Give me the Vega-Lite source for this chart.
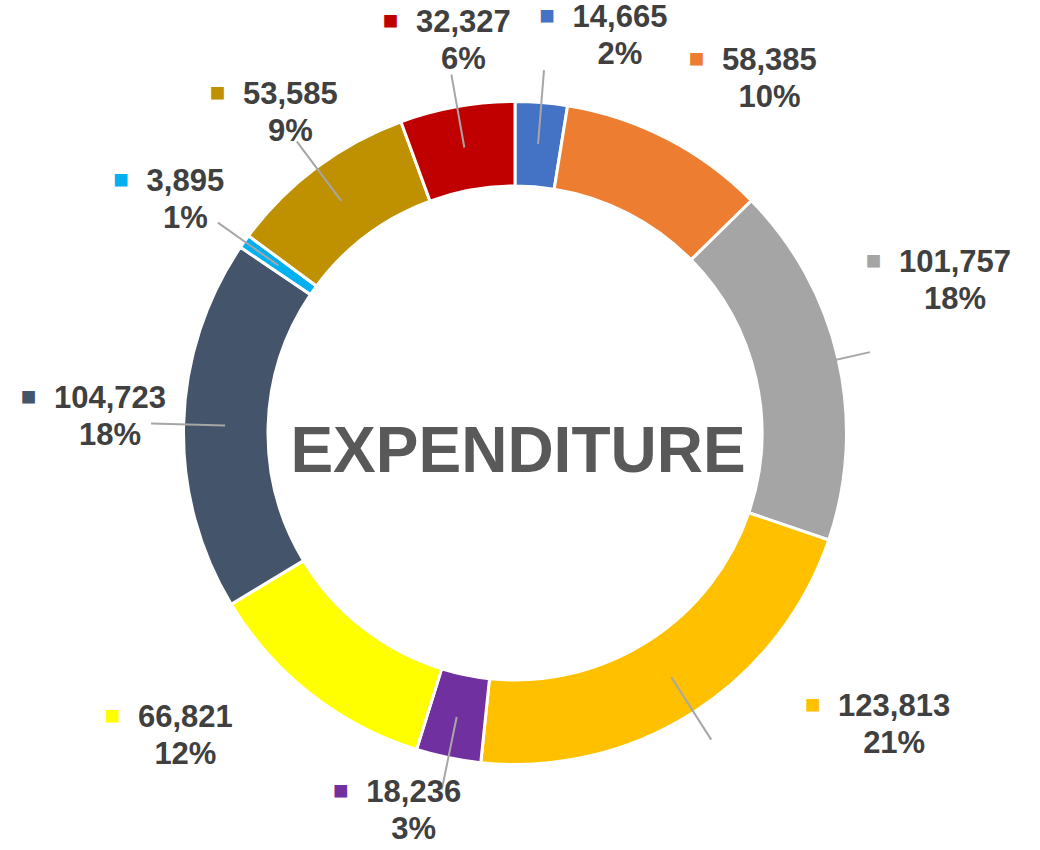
{
  "$schema": "https://vega.github.io/schema/vega-lite/v6.json",
  "width": 1040,
  "height": 850,
  "autosize": {"type": "fit", "contains": "padding"},
  "padding": {"left": 0, "top": 10, "right": 10, "bottom": 0},
  "background": "#ffffff",
  "view": {"stroke": null},
  "config": {"text": {"font": "Liberation Sans"}},
  "data": {"values": [
    {"slice": 1, "value": 14665, "pct": "2%"},
    {"slice": 2, "value": 58385, "pct": "10%"},
    {"slice": 3, "value": 101757, "pct": "18%"},
    {"slice": 4, "value": 123813, "pct": "21%"},
    {"slice": 5, "value": 18236, "pct": "3%"},
    {"slice": 6, "value": 66821, "pct": "12%"},
    {"slice": 7, "value": 104723, "pct": "18%"},
    {"slice": 8, "value": 3895, "pct": "1%"},
    {"slice": 9, "value": 53585, "pct": "9%"},
    {"slice": 10, "value": 32327, "pct": "6%"}
  ]},
  "transform": [{"joinaggregate": [{"op": "sum", "field": "value", "as": "total"}]}],
  "layer": [
    {
      "mark": {"type": "arc", "innerRadius": 247, "outerRadius": 331.5, "stroke": "#ffffff", "strokeWidth": 3},
      "encoding": {
        "theta": {"field": "value", "type": "quantitative", "stack": true},
        "order": {"field": "slice", "type": "quantitative"},
        "color": {"field": "slice", "type": "nominal", "legend": null,
          "scale": {"domain": [1,2,3,4,5,6,7,8,9,10], "range": ["#4472C4","#ED7D31","#A5A5A5","#FFC000","#7030A0","#FFFF00","#44546A","#00B0F0","#BF9000","#C00000"]}}
      }
    },
    {
      "mark": {"type": "arc", "innerRadius": 290, "outerRadius": 364, "padAngle": 1.1, "fill": null, "fillOpacity": 0, "stroke": "#A6A6A6", "strokeWidth": 2},
      "encoding": {
        "theta": {"field": "value", "type": "quantitative", "stack": true},
        "order": {"field": "slice", "type": "quantitative"},
        "strokeOpacity": {"condition": {"test": "datum.slice == 2 || datum.slice == 6", "value": 0}, "value": 1}
      }
    },
    {
      "mark": {"type": "text", "radius": 378, "fontSize": 31, "fontWeight": "bold", "color": "#404040", "align": "center", "baseline": "alphabetic",
        "dx": {"expr": "clamp((480-100*cos(PI*(datum.value_start+datum.value_end)/datum.total))*sin(PI*(datum.value_start+datum.value_end)/datum.total)+60*clamp(sin(PI*(datum.value_start+datum.value_end)/datum.total)/0.08,0,1),-420,425)-378*sin(PI*(datum.value_start+datum.value_end)/datum.total)+15"},
        "dy": {"expr": "-14*cos(PI*(datum.value_start+datum.value_end)/datum.total)-8-60*max(sin(PI*(datum.value_start+datum.value_end)/datum.total),0)*clamp((0.6-cos(PI*(datum.value_start+datum.value_end)/datum.total))*3,0,1)-7"}},
      "encoding": {
        "theta": {"field": "value", "type": "quantitative", "stack": true},
        "order": {"field": "slice", "type": "quantitative"},
        "text": {"field": "value", "type": "quantitative", "format": ","}
      }
    },
    {
      "mark": {"type": "text", "radius": 378, "fontSize": 31, "fontWeight": "bold", "color": "#404040", "align": "center", "baseline": "alphabetic",
        "dx": {"expr": "clamp((480-100*cos(PI*(datum.value_start+datum.value_end)/datum.total))*sin(PI*(datum.value_start+datum.value_end)/datum.total)+60*clamp(sin(PI*(datum.value_start+datum.value_end)/datum.total)/0.08,0,1),-420,425)-378*sin(PI*(datum.value_start+datum.value_end)/datum.total)+15"},
        "dy": {"expr": "-14*cos(PI*(datum.value_start+datum.value_end)/datum.total)-8-60*max(sin(PI*(datum.value_start+datum.value_end)/datum.total),0)*clamp((0.6-cos(PI*(datum.value_start+datum.value_end)/datum.total))*3,0,1)+30"}},
      "encoding": {
        "theta": {"field": "value", "type": "quantitative", "stack": true},
        "order": {"field": "slice", "type": "quantitative"},
        "text": {"field": "pct", "type": "nominal"}
      }
    },
    {
      "mark": {"type": "text", "radius": 378, "fontSize": 26, "align": "center", "baseline": "middle", "text": "■",
        "dx": {"expr": "clamp((480-100*cos(PI*(datum.value_start+datum.value_end)/datum.total))*sin(PI*(datum.value_start+datum.value_end)/datum.total)+60*clamp(sin(PI*(datum.value_start+datum.value_end)/datum.total)/0.08,0,1),-420,425)-378*sin(PI*(datum.value_start+datum.value_end)/datum.total)+15-(17.2*length(format(datum.value,','))-8.6)/2-25.5"},
        "dy": {"expr": "-14*cos(PI*(datum.value_start+datum.value_end)/datum.total)-8-60*max(sin(PI*(datum.value_start+datum.value_end)/datum.total),0)*clamp((0.6-cos(PI*(datum.value_start+datum.value_end)/datum.total))*3,0,1)-18"}},
      "encoding": {
        "theta": {"field": "value", "type": "quantitative", "stack": true},
        "order": {"field": "slice", "type": "quantitative"},
        "color": {"field": "slice", "type": "nominal", "legend": null}
      }
    },
    {
      "data": {"values": [{"label": "EXPENDITURE"}]},
      "mark": {"type": "text", "fontSize": 64, "fontWeight": "bold", "color": "#595959", "align": "center", "baseline": "alphabetic", "dx": 3, "dy": 39},
      "encoding": {"text": {"field": "label", "type": "nominal"}}
    }
  ]
}
